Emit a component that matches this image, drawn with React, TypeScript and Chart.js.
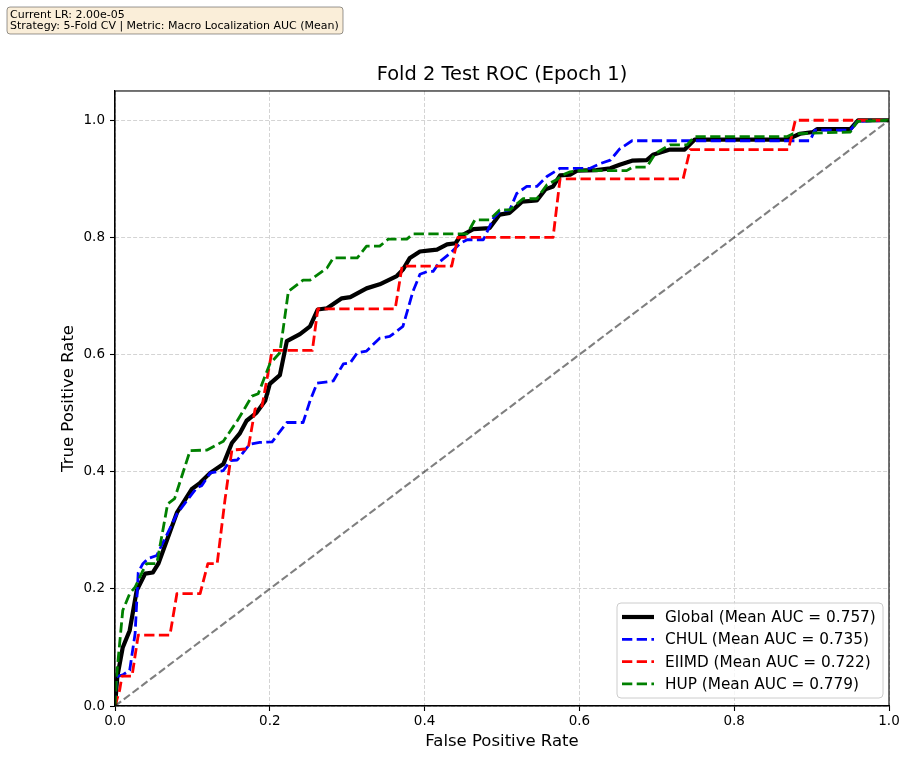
import React, { useEffect, useRef } from "react";
import { Chart, registerables } from "chart.js";

Chart.register(...registerables);

const FONT = "'DejaVu Sans', 'Liberation Sans', sans-serif";

const titleText = "Fold 2 Test ROC (Epoch 1)";
const xAxisLabel = "False Positive Rate";
const yAxisLabel = "True Positive Rate";
const infoLines = [
  "Current LR: 2.00e-05",
  "Strategy: 5-Fold CV | Metric: Macro Localization AUC (Mean)",
];

const seriesLabels = [
  "Global (Mean AUC = 0.757)",
  "CHUL (Mean AUC = 0.735)",
  "EIIMD (Mean AUC = 0.722)",
  "HUP (Mean AUC = 0.779)",
];

const xTicks = [0, 0.2, 0.4, 0.6, 0.8, 1.0];
const yTicks = [0, 0.2, 0.4, 0.6, 0.8, 1.0];

const globalFpr = [0, 0.003, 0.01, 0.019, 0.028, 0.039, 0.049, 0.056, 0.08, 0.099, 0.11, 0.123, 0.14, 0.151, 0.161, 0.17, 0.183, 0.194, 0.2, 0.213, 0.222, 0.239, 0.252, 0.262, 0.274, 0.293, 0.304, 0.325, 0.342, 0.364, 0.372, 0.381, 0.394, 0.407, 0.416, 0.429, 0.44, 0.446, 0.463, 0.484, 0.497, 0.51, 0.526, 0.545, 0.556, 0.566, 0.575, 0.588, 0.597, 0.622, 0.64, 0.652, 0.668, 0.687, 0.695, 0.717, 0.736, 0.749, 0.868, 0.885, 0.902, 0.907, 0.95, 0.96, 1.0];
const globalTpr = [0, 0.05, 0.1, 0.129, 0.197, 0.226, 0.228, 0.243, 0.33, 0.37, 0.381, 0.398, 0.413, 0.449, 0.465, 0.487, 0.501, 0.521, 0.55, 0.565, 0.623, 0.635, 0.648, 0.677, 0.679, 0.696, 0.698, 0.713, 0.72, 0.734, 0.745, 0.765, 0.776, 0.778, 0.779, 0.788, 0.79, 0.802, 0.814, 0.816, 0.839, 0.842, 0.861, 0.863, 0.882, 0.887, 0.906, 0.907, 0.914, 0.915, 0.918, 0.924, 0.931, 0.932, 0.941, 0.95, 0.95, 0.967, 0.967, 0.977, 0.98, 0.985, 0.985, 1.0, 1.0];

const chulFpr = [0, 0.002, 0.01, 0.019, 0.026, 0.03, 0.036, 0.043, 0.054, 0.08, 0.093, 0.106, 0.112, 0.123, 0.14, 0.149, 0.158, 0.174, 0.187, 0.203, 0.222, 0.243, 0.252, 0.261, 0.282, 0.295, 0.304, 0.313, 0.325, 0.342, 0.355, 0.372, 0.385, 0.394, 0.404, 0.411, 0.42, 0.433, 0.446, 0.455, 0.476, 0.489, 0.497, 0.51, 0.519, 0.532, 0.545, 0.558, 0.575, 0.614, 0.627, 0.64, 0.652, 0.668, 0.898, 0.904, 0.95, 0.959, 1.0];
const chulTpr = [0, 0.05, 0.053, 0.061, 0.124, 0.228, 0.243, 0.252, 0.257, 0.328, 0.351, 0.373, 0.376, 0.398, 0.402, 0.419, 0.42, 0.447, 0.45, 0.451, 0.484, 0.484, 0.521, 0.551, 0.555, 0.584, 0.586, 0.603, 0.606, 0.628, 0.631, 0.648, 0.708, 0.737, 0.742, 0.742, 0.759, 0.773, 0.79, 0.796, 0.796, 0.833, 0.844, 0.847, 0.875, 0.887, 0.887, 0.904, 0.918, 0.918, 0.926, 0.932, 0.951, 0.965, 0.965, 0.983, 0.983, 0.998, 1.0];

const eiimdFpr = [0, 0.006, 0.009, 0.022, 0.03, 0.071, 0.08, 0.11, 0.12, 0.132, 0.142, 0.151, 0.172, 0.181, 0.19, 0.203, 0.255, 0.262, 0.362, 0.371, 0.435, 0.443, 0.566, 0.575, 0.734, 0.743, 0.87, 0.879, 1.0];
const eiimdTpr = [0, 0.027, 0.051, 0.051, 0.121, 0.121, 0.192, 0.192, 0.243, 0.243, 0.351, 0.437, 0.439, 0.507, 0.512, 0.607, 0.607, 0.678, 0.678, 0.751, 0.751, 0.8, 0.8, 0.9, 0.9, 0.95, 0.95, 1.0, 1.0];

const hupFpr = [0, 0.002, 0.01, 0.019, 0.026, 0.036, 0.041, 0.054, 0.068, 0.077, 0.097, 0.119, 0.14, 0.158, 0.177, 0.185, 0.2, 0.213, 0.224, 0.243, 0.252, 0.274, 0.282, 0.313, 0.325, 0.342, 0.353, 0.377, 0.385, 0.455, 0.465, 0.484, 0.497, 0.51, 0.527, 0.545, 0.558, 0.571, 0.579, 0.588, 0.597, 0.661, 0.669, 0.687, 0.698, 0.713, 0.717, 0.739, 0.749, 0.868, 0.876, 0.95, 0.959, 1.0];
const hupTpr = [0, 0.05, 0.163, 0.192, 0.203, 0.231, 0.243, 0.243, 0.345, 0.354, 0.436, 0.437, 0.452, 0.487, 0.529, 0.533, 0.584, 0.603, 0.708, 0.727, 0.727, 0.748, 0.765, 0.765, 0.785, 0.785, 0.797, 0.797, 0.806, 0.806, 0.83, 0.83, 0.847, 0.847, 0.866, 0.866, 0.89, 0.899, 0.907, 0.912, 0.914, 0.914, 0.92, 0.92, 0.943, 0.955, 0.958, 0.958, 0.972, 0.972, 0.977, 0.98, 0.998, 1.0];

const chanceFpr = [0, 1];
const chanceTpr = [0, 1];

const toPoints = (xs: number[], ys: number[]) => xs.map((x, i) => ({ x, y: ys[i] }));

const overlayPlugin = {
  id: "overlay",
  afterDatasetsDraw(chart: any) {
    const { ctx, chartArea: a } = chart;
    ctx.save();
    ctx.setLineDash([]);
    ctx.strokeStyle = "#000";
    ctx.lineWidth = 1.1;
    ctx.strokeRect(a.left, a.top, a.right - a.left, a.bottom - a.top);

    const entries = chart.data.datasets.filter((d: any) => d.label);
    const w = 266;
    const h = 95;
    const lx = a.right - 6 - w;
    const ly = a.bottom - 8 - h;
    ctx.beginPath();
    ctx.roundRect(lx, ly, w, h, 4);
    ctx.fillStyle = "rgba(255,255,255,0.8)";
    ctx.fill();
    ctx.strokeStyle = "#cccccc";
    ctx.lineWidth = 1;
    ctx.stroke();
    ctx.font = `15.3px ${FONT}`;
    ctx.textBaseline = "middle";
    ctx.textAlign = "left";
    entries.forEach((d: any, i: number) => {
      const cy = ly + 14 + i * 22.3;
      ctx.beginPath();
      ctx.setLineDash(d.borderDash || []);
      ctx.strokeStyle = d.borderColor;
      ctx.lineWidth = d.borderWidth;
      ctx.lineCap = "butt";
      ctx.moveTo(lx + 5, cy);
      ctx.lineTo(lx + 37, cy);
      ctx.stroke();
      ctx.setLineDash([]);
      ctx.fillStyle = "#000";
      ctx.fillText(d.label, lx + 48, cy + 1);
    });
    ctx.restore();
  },
  afterDraw(chart: any) {
    const { ctx } = chart;
    ctx.save();
    ctx.beginPath();
    ctx.roundRect(7, 7, 336, 27, 3);
    ctx.fillStyle = "rgba(245,222,179,0.5)";
    ctx.fill();
    ctx.strokeStyle = "rgba(0,0,0,0.4)";
    ctx.lineWidth = 1;
    ctx.stroke();
    ctx.font = `11px ${FONT}`;
    ctx.fillStyle = "#000";
    ctx.textBaseline = "alphabetic";
    ctx.textAlign = "left";
    infoLines.forEach((t, i) => ctx.fillText(t, 10, 17.5 + i * 11.3));
    ctx.restore();
  },
};

export default function App() {
  const ref = useRef<HTMLCanvasElement | null>(null);
  useEffect(() => {
    if (!ref.current) return;
    const lineBase = {
      pointRadius: 0,
      tension: 0,
      fill: false,
      borderCapStyle: "butt" as const,
      borderJoinStyle: "round" as const,
    };
    const chart = new Chart(ref.current, {
      type: "line",
      data: {
        datasets: [
          { ...lineBase, label: seriesLabels[0], data: toPoints(globalFpr, globalTpr), borderColor: "#000000", borderWidth: 4.2, borderDash: [], order: 5 },
          { ...lineBase, label: seriesLabels[1], data: toPoints(chulFpr, chulTpr), borderColor: "#0000ff", borderWidth: 2.8, borderDash: [10.3, 4.4], order: 4 },
          { ...lineBase, label: seriesLabels[2], data: toPoints(eiimdFpr, eiimdTpr), borderColor: "#ff0000", borderWidth: 2.8, borderDash: [10.3, 4.4], order: 3 },
          { ...lineBase, label: seriesLabels[3], data: toPoints(hupFpr, hupTpr), borderColor: "#008000", borderWidth: 2.8, borderDash: [10.3, 4.4], order: 2 },
          { ...lineBase, label: "", data: toPoints(chanceFpr, chanceTpr), borderColor: "rgba(0,0,0,0.5)", borderWidth: 2.1, borderDash: [7.7, 3.3], order: 1 },
        ],
      },
      options: {
        animation: false,
        responsive: true,
        maintainAspectRatio: false,
        events: [],
        layout: { padding: { left: 0, right: 22, top: 0, bottom: 0 } },
        font: { family: FONT },
        plugins: {
          legend: { display: false },
          tooltip: { enabled: false },
          title: {
            display: true,
            fullSize: false,
            text: titleText,
            color: "#000",
            font: { family: FONT, size: 19.4, weight: "normal" },
            padding: { top: 63.4, bottom: 4.3 },
          },
        },
        scales: {
          x: {
            type: "linear",
            min: 0,
            max: 1,
            afterBuildTicks: (s: any) => { s.ticks = xTicks.map((v) => ({ value: v })); },
            afterFit: (s: any) => { s.height = 54; },
            ticks: {
              color: "#000",
              font: { family: FONT, size: 13.5 },
              padding: 2,
              maxRotation: 0,
              callback: (v: any) => Number(v).toFixed(1),
            },
            grid: {
              color: "rgba(176,176,176,0.55)",
              lineWidth: 1,
              tickLength: 5,
              tickColor: "#000",
              tickWidth: 1.1,
              tickBorderDash: [],
            },
            border: { display: true, color: "#000", width: 1.1, dash: [4, 2] },
            title: {
              display: true,
              text: xAxisLabel,
              color: "#000",
              font: { family: FONT, size: 16.5 },
              padding: { top: 0, bottom: 8 },
            },
          },
          y: {
            type: "linear",
            min: 0,
            max: 1.05,
            afterBuildTicks: (s: any) => { s.ticks = yTicks.map((v) => ({ value: v })); },
            afterFit: (s: any) => { s.width = 115; },
            ticks: {
              color: "#000",
              font: { family: FONT, size: 13.5 },
              padding: 5,
              callback: (v: any) => Number(v).toFixed(1),
            },
            grid: {
              color: "rgba(176,176,176,0.55)",
              lineWidth: 1,
              tickLength: 5,
              tickColor: "#000",
              tickWidth: 1.1,
              tickBorderDash: [],
            },
            border: { display: true, color: "#000", width: 1.1, dash: [4, 2] },
            title: {
              display: true,
              text: yAxisLabel,
              color: "#000",
              font: { family: FONT, size: 16.5 },
              padding: { top: 59, bottom: 0 },
            },
          },
        },
      },
      plugins: [overlayPlugin],
    } as any);
    return () => chart.destroy();
  }, []);
  return (
    <div style={{ position: "absolute", left: 0, top: 0, width: 911, height: 760, background: "#fff" }}>
      <canvas ref={ref} />
    </div>
  );
}
